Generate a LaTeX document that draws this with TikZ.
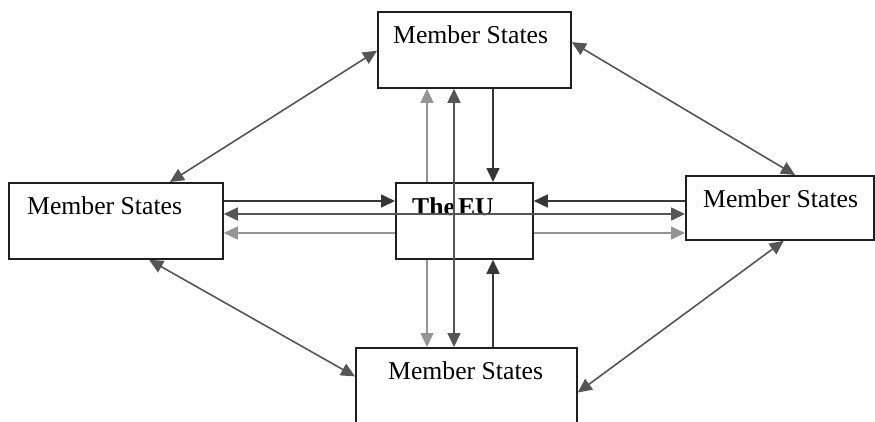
\documentclass[tikz,border=0pt]{standalone}
\usepackage{fontspec}
\setmainfont{Liberation Serif}
\usepackage{tikz}
\usetikzlibrary{arrows.meta, positioning, calc}
\definecolor{linedark}{HTML}{363636}
\definecolor{linemid}{HTML}{555555}
\definecolor{linelight}{HTML}{959595}
\tikzset{
    msbox/.style={
        rectangle,
        draw=black!88,
        line width=1.8pt,
        fill=white,
        anchor=north west,
        inner sep=0pt
    },
    mstext/.style={
        anchor=base west,
        inner sep=0pt,
        font=\fontsize{25.7}{30}\selectfont
    },
    toeu/.style={
        draw=linedark,
        line width=1.6pt,
        -{Triangle[length=14pt,width=13pt]}
    },
    fromeu/.style={
        draw=linelight,
        line width=1.4pt,
        -{Triangle[length=14pt,width=13pt]}
    },
    across/.style={
        draw=linemid,
        line width=1.6pt,
        {Triangle[length=14pt,width=13pt]}-{Triangle[length=14pt,width=13pt]}
    }
}

\begin{document}
\begin{tikzpicture}[x=1pt, y=-1pt]
\useasboundingbox (0,0) rectangle (875,421);

% Boxes
\node[msbox, minimum width=193pt, minimum height=76pt] (ms_top) at (377,11) {};
\node[msbox, minimum width=214pt, minimum height=76pt] (ms_left) at (8,182) {};
\node[msbox, minimum width=137pt, minimum height=76pt] (eu) at (395,182) {};
\node[msbox, minimum width=188pt, minimum height=64pt] (ms_right) at (685,175) {};
\node[msbox, minimum width=221pt, minimum height=93pt] (ms_bottom) at (355,347) {};

% Labels
\node[mstext] (ms_top_txt) at ($(ms_top.north west)+(16,32)$) {Member States};
\node[mstext] (ms_left_txt) at ($(ms_left.north west)+(19,32)$) {Member States};
\node[mstext, font=\fontsize{25.7}{30}\selectfont\bfseries] (eu_txt) at ($(eu.north west)+(17,33)$) {The\kern3pt EU};
\node[mstext] (ms_right_txt) at ($(ms_right.north west)+(18,32)$) {Member States};
\node[mstext] (ms_bottom_txt) at ($(ms_bottom.north west)+(33,32)$) {Member States};

% Lanes
\coordinate (lane_a) at (427,0);
\coordinate (lane_b) at (454,0);
\coordinate (lane_c) at (493,0);
\coordinate (row_a) at (0,201);
\coordinate (row_b) at (0,214);
\coordinate (row_c) at (0,233);

% Member States to the EU
\draw[toeu] (ms_top.south -| lane_c) -- (eu.north -| lane_c);
\draw[toeu] (ms_bottom.north -| lane_c) -- (eu.south -| lane_c);
\draw[toeu] (ms_left.east |- row_a) -- (eu.west |- row_a);
\draw[toeu] (ms_right.west |- row_a) -- (eu.east |- row_a);

% The EU to Member States
\draw[fromeu] (eu.north -| lane_a) -- (ms_top.south -| lane_a);
\draw[fromeu] (eu.south -| lane_a) -- (ms_bottom.north -| lane_a);
\draw[fromeu] (eu.west |- row_c) -- (ms_left.east |- row_c);
\draw[fromeu] (eu.east |- row_c) -- (ms_right.west |- row_c);

% Across the EU
\draw[across] (ms_top.south -| lane_b) -- (ms_bottom.north -| lane_b);
\draw[across] (ms_left.east |- row_b) -- (ms_right.west |- row_b);

% Between neighbours
\draw[across] ($(ms_top.north west)!0.51!(ms_top.south west)$) -- ($(ms_left.north west)!0.75!(ms_left.north east)$);
\draw[across] ($(ms_top.north east)!0.4!(ms_top.south east)$) -- ($(ms_right.north west)!0.58!(ms_right.north east)$);
\draw[across] ($(ms_left.south west)!0.654!(ms_left.south east)$) -- ($(ms_bottom.north west)!0.31!(ms_bottom.south west)$);
\draw[across] ($(ms_bottom.north east)!0.48!(ms_bottom.south east)$) -- ($(ms_right.south west)!0.52!(ms_right.south east)$);

\end{tikzpicture}
\end{document}
